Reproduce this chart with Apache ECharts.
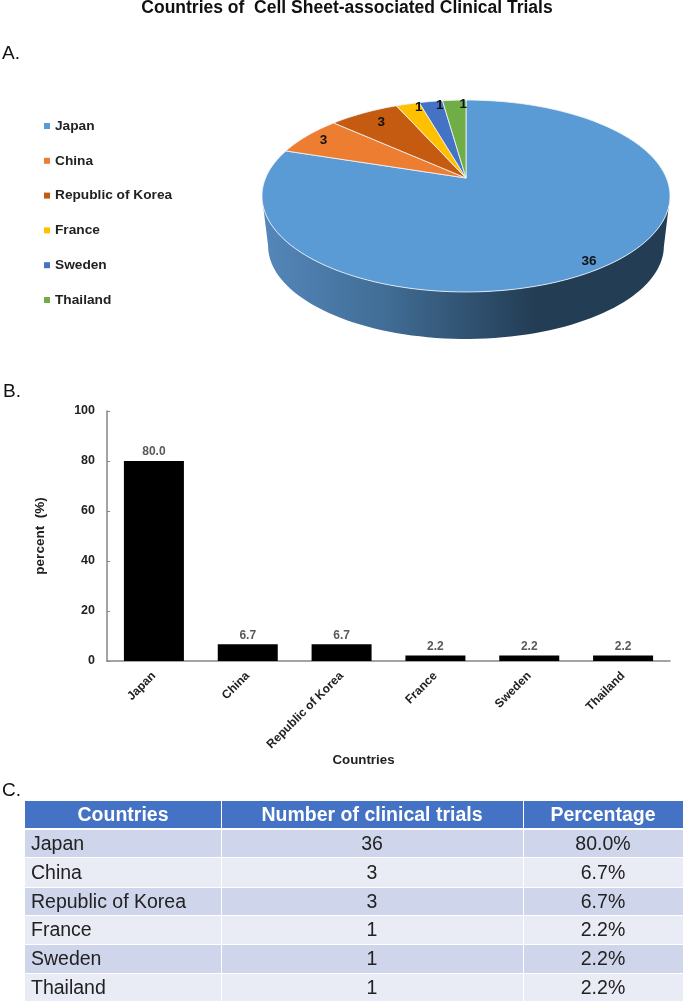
<!DOCTYPE html>
<html>
<head>
<meta charset="UTF-8">
<title>Countries of Cell Sheet-associated Clinical Trials</title>
<style>
html, body { margin: 0; padding: 0; background: #fff; }
#chart { width: 685px; height: 1004px; }
</style>
<script src="https://cdn.jsdelivr.net/npm/echarts@6/dist/echarts.min.js"></script>
</head>
<body>
<div id="chart"></div>
<script>
var countries = ['Japan', 'China', 'Republic of Korea', 'France', 'Sweden', 'Thailand'];
var trials = [36, 3, 3, 1, 1, 1];
var percents = [80.0, 6.7, 6.7, 2.2, 2.2, 2.2];
var percentTicks = [0, 20, 40, 60, 80, 100];
var tableHead = ['Countries', 'Number of clinical trials', 'Percentage'];

var sliceColors = ['#5b9bd5', '#ed7d31', '#c55a11', '#ffc000', '#4472c4', '#70ad47'];
var font = '"Liberation Sans", Arial, sans-serif';

// tilted pie: circle seen in perspective, apex sits above the ellipse centre
var pie = { x: 466, y: 178, a: 200.4, b: 92.6, p: 0.1875, depth: 50.4, shrink: 0.97 };
var labelR = [0.92, 0.87, 0.84, 0.9, 0.9, 0.9];
var labelDx = [-3, -3, 3, 6, 6, 8];
var labelDy = [3, 0, 0, -3, -3, -3];
var total = trials.reduce(function (a, b) { return a + b; }, 0);

// clockwise degrees from 12 o'clock -> screen point
function project(deg, r, drop, scale) {
  var t = deg * Math.PI / 180;
  var u = Math.sin(t) * r, v = -Math.cos(t) * r;
  var k = 1 - pie.p * v;
  return [pie.x + scale * pie.a * u / k, pie.y + drop + scale * pie.b * v / k];
}

function sliceItem(i) {
  return function (params, api) {
    var start = 0;
    for (var j = 0; j < i; j++) start += trials[j];
    var from = start / total * 360;
    var to = from + api.value(0) / total * 360;
    var pts = [[pie.x, pie.y]];
    for (var d = from; d < to; d += 2) pts.push(project(d, 1, 0, 1));
    pts.push(project(to, 1, 0, 1));
    var mid = project((from + to) / 2, labelR[i], 0, 1);
    return {
      type: 'group',
      children: [{
        type: 'polygon',
        shape: { points: pts },
        style: { fill: sliceColors[i], stroke: '#f4f7fb', lineWidth: 0.8 }
      }, {
        type: 'text',
        z2: 100,
        style: {
          text: String(api.value(0)),
          x: mid[0] + labelDx[i], y: mid[1] + labelDy[i],
          align: 'center', verticalAlign: 'middle',
          font: 'bold 13.5px ' + font, fill: '#111'
        }
      }]
    };
  };
}

function sideItem() {
  var t0 = Math.asin(pie.p) * 180 / Math.PI;
  var pts = [], d;
  for (d = 90 + t0; d <= 270 - t0; d += 2) pts.push(project(d, 1, 0, 1));
  for (d = 270 - t0; d >= 90 + t0; d -= 2) pts.push(project(d, 1, pie.depth, pie.shrink));
  return {
    type: 'polygon',
    shape: { points: pts },
    style: {
      // left-hand part of the wall is the lit one, so stops are flipped from angle order
      fill: new echarts.graphic.LinearGradient(0, 0, 1, 0, [
        { offset: 0, color: '#5487ba' },
        { offset: 0.3, color: '#416d96' },
        { offset: 0.67, color: '#233d54' },
        { offset: 1, color: '#233d54' }
      ])
    }
  };
}

var series = [{
  type: 'custom', name: 'side', coordinateSystem: 'none', silent: true,
  data: [total], renderItem: sideItem
}];
countries.forEach(function (name, i) {
  series.push({
    type: 'custom', name: name, coordinateSystem: 'none', silent: true,
    itemStyle: { color: sliceColors[i] },
    data: [trials[i]], renderItem: sliceItem(i)
  });
});
series.push({
  type: 'bar', name: 'percent', xAxisIndex: 0, yAxisIndex: 0,
  data: percents, barWidth: 60,
  itemStyle: { color: '#000' },
  label: {
    show: true, position: 'top', distance: 3,
    formatter: function (p) { return p.value.toFixed(1); },
    fontFamily: font, fontSize: 12, fontWeight: 'bold', color: '#595959'
  }
});

// table C
var tbl = { cols: [25, 221, 523, 683],
  head: [801, 828], rows: [[830, 857], [858, 887], [888, 915], [916, 944], [945, 973], [974, 1001]] };
var graphics = [];
function panel(t, x, y) {
  graphics.push({ type: 'text', style: { text: t, x: x, y: y, font: '19px ' + font, fill: '#111', verticalAlign: 'middle' } });
}
panel('A.', 2, 54);
panel('B.', 3, 392);
panel('C.', 2, 791);
function cell(x0, x1, y0, y1, fill) {
  graphics.push({ type: 'rect', shape: { x: x0, y: y0, width: x1 - x0, height: y1 - y0 }, style: { fill: fill } });
}
function cellText(t, x, y, align, color, weight) {
  graphics.push({ type: 'text', z: 5, style: { text: t, x: x, y: y, align: align, verticalAlign: 'middle', font: weight + ' 19.5px ' + font, fill: color } });
}
var colMid = [0, 372, 603];
tableHead.forEach(function (h, c) {
  var x0 = tbl.cols[c] + (c ? 1 : 0), x1 = tbl.cols[c + 1];
  cell(x0, x1, tbl.head[0], tbl.head[1], '#4472c4');
  cellText(h, c ? colMid[c] : 123, (tbl.head[0] + tbl.head[1]) / 2 + 1, 'center', '#fff', 'bold');
});
countries.forEach(function (name, r) {
  var y0 = tbl.rows[r][0], y1 = tbl.rows[r][1], ym = (y0 + y1) / 2 + 1;
  var fill = r % 2 ? '#e9ebf5' : '#cfd5ea';
  for (var c = 0; c < 3; c++) cell(tbl.cols[c] + (c ? 1 : 0), tbl.cols[c + 1], y0, y1, fill);
  cellText(name, 31, ym, 'left', '#222', 'normal');
  cellText(String(trials[r]), colMid[1], ym, 'center', '#222', 'normal');
  cellText(percents[r].toFixed(1) + '%', colMid[2], ym, 'center', '#222', 'normal');
});

var myChart = echarts.init(document.getElementById('chart'));
myChart.setOption({
  animation: false,
  backgroundColor: '#fff',
  title: {
    text: 'Countries of  Cell Sheet-associated Clinical Trials',
    left: 342, top: -6, textAlign: 'center',
    textStyle: { fontFamily: font, fontSize: 17.5, fontWeight: 'bold', color: '#111' }
  },
  legend: {
    data: countries, orient: 'vertical', left: 39, top: 114,
    icon: 'rect', itemWidth: 6, itemHeight: 6, itemGap: 20.8,
    selectedMode: false,
    textStyle: { fontFamily: font, fontSize: 13.7, fontWeight: 'bold', color: '#222' }
  },
  grid: { left: 107, top: 411, right: 15, height: 250 },
  xAxis: {
    type: 'category', data: countries,
    name: 'Countries', nameLocation: 'middle', nameGap: 90,
    nameTextStyle: { fontFamily: font, fontSize: 13.3, fontWeight: 'bold', color: '#222', padding: [0, 50, 0, 0] },
    axisLine: { lineStyle: { color: '#868686', width: 1.5 } },
    axisTick: { inside: true, length: 3, lineStyle: { color: '#868686' } },
    axisLabel: { rotate: 45, interval: 0, margin: 13, fontFamily: font, fontSize: 12, fontWeight: 'bold', color: '#222' }
  },
  yAxis: {
    type: 'value', min: percentTicks[0], max: percentTicks[percentTicks.length - 1], interval: 20,
    name: 'percent  (%)', nameLocation: 'middle', nameGap: 60,
    nameTextStyle: { fontFamily: font, fontSize: 13.5, fontWeight: 'bold', color: '#222' },
    splitLine: { show: false },
    axisLine: { show: true, lineStyle: { color: '#868686', width: 1.5 } },
    axisTick: { show: true, inside: true, length: 3, lineStyle: { color: '#868686' } },
    axisLabel: { margin: 12, fontFamily: font, fontSize: 12.5, fontWeight: 'bold', color: '#222' }
  },
  graphic: graphics,
  series: series
});
</script>
</body>
</html>
